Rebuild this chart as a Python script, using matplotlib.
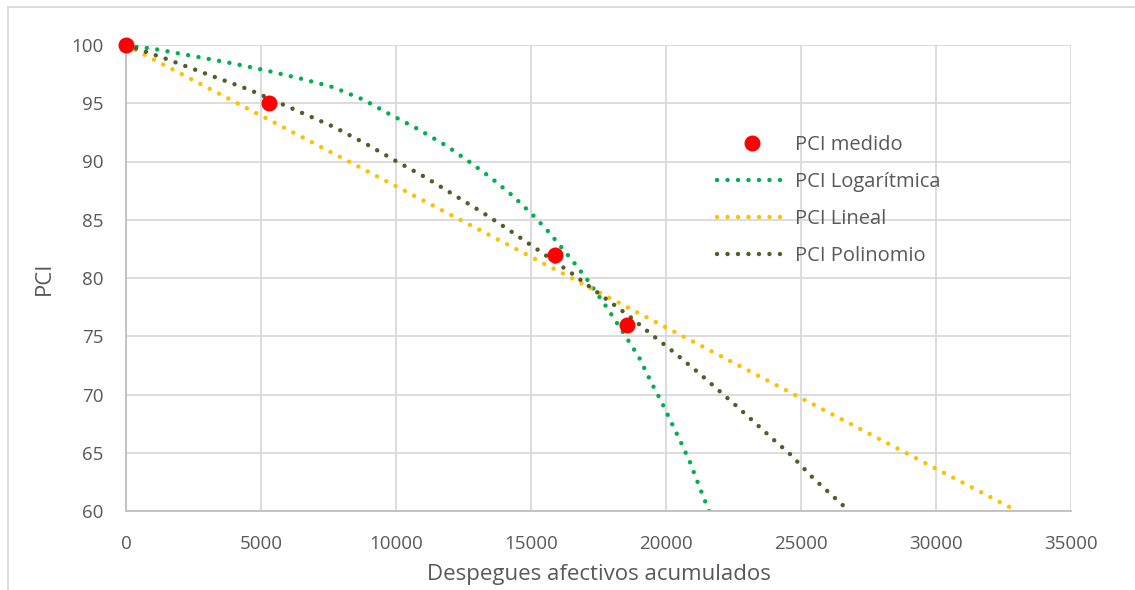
import numpy as np
import matplotlib.pyplot as plt
from matplotlib.lines import Line2D

plt.rcParams['font.family'] = ['Open Sans', 'DejaVu Sans']

# measured points
x_med = [0, 5300, 15900, 18550]
y_med = [100, 95, 82, 76]

# trend lines, points
x_log = [0, 1200, 2740, 4000, 5210, 6500, 7680, 8800, 9750, 10800, 11880, 12700,
         13520, 14300, 15040, 15600, 16110, 16600, 17120, 17800, 18480, 19000,
         19470, 19850, 20190, 20550, 20890, 21250, 21610]
y_log = [100, 99.6, 98.94, 98.4, 97.8, 97.1, 96.37, 95.3, 94.08, 92.8, 91.33, 90.0,
         88.6, 87.1, 85.47, 84.1, 82.69, 81.3, 79.74, 77.5, 75.08, 73.2,
         70.96, 69.3, 67.64, 65.9, 64.18, 62.0, 59.9]

x_lin = [0, 33000]
y_lin = [100, 60]

x_pol = [0, 1500, 3000, 4590, 6100, 7680, 8900, 10030, 11090, 12100, 13180, 14200,
         15170, 16510, 17800, 18600, 19410, 20200, 20980, 21260, 22500, 24000,
         24600, 25460, 26660, 26850]
y_pol = [100, 98.8, 97.5, 96.14, 94.6, 92.99, 91.5, 90.0, 88.64, 87.2, 85.66, 84.1,
         82.55, 80.4, 78.17, 76.8, 75.25, 73.8, 72.3, 71.76, 69.24, 66.09,
         64.87, 62.8, 60.26, 60.0]

text_col = '#595959'
c_log = '#00b050'
c_lin = '#ffc000'
c_pol = '#4f5f28'

fig = plt.figure(figsize=(11.35, 5.9), dpi=100)
ax = fig.add_axes([126 / 1135, 1 - 511 / 590, 945 / 1135, 466 / 590])

dot = (0, (0.01, 2.35))
kw = dict(linestyle=dot, linewidth=3.2, dash_capstyle='round')
ax.plot(x_log, y_log, color=c_log, **kw)
ax.plot(x_lin, y_lin, color=c_lin, **kw)
ax.plot(x_pol, y_pol, color=c_pol, **kw)
ax.plot(x_med, y_med, 'o', color='#ff0000', markersize=10.5, zorder=5, clip_on=False)

ax.set_xlim(0, 35000)
ax.set_ylim(60, 100)
ax.set_xticks(np.arange(0, 35001, 5000))
ax.set_yticks(np.arange(60, 101, 5))
ax.grid(True, color='#d9d9d9', linewidth=1.3)
ax.set_axisbelow(True)
for s in ['top', 'right']:
    ax.spines[s].set_visible(False)
for s in ['left', 'bottom']:
    ax.spines[s].set_color('#bfbfbf')
    ax.spines[s].set_linewidth(1.3)
ax.tick_params(length=0, labelsize=13.5, labelcolor=text_col)
ax.tick_params(axis='y', pad=16)
ax.tick_params(axis='x', pad=17)
ax.set_xlabel('Despegues afectivos acumulados', fontsize=16, color=text_col, labelpad=8)
ax.set_ylabel('PCI', fontsize=16, color=text_col, labelpad=12)

handles = [
    Line2D([], [], marker='o', color='#ff0000', linestyle='none', markersize=10.5),
    Line2D([], [], color=c_log, **kw),
    Line2D([], [], color=c_lin, **kw),
    Line2D([], [], color=c_pol, **kw),
]
labels = ['PCI medido', 'PCI Logarítmica', 'PCI Lineal', 'PCI Polinomio']
leg = ax.legend(handles, labels, frameon=False, fontsize=14.5, loc='upper left',
                bbox_to_anchor=(573 / 945, 1 - 72 / 466), handlelength=3.5,
                handletextpad=0.35, labelspacing=0.85)
for t in leg.get_texts():
    t.set_color(text_col)

# chart border
fig.add_artist(plt.Line2D([8 / 1135, 8 / 1135], [0, 1 - 7 / 590], color='#d9d9d9',
                          linewidth=1.3, transform=fig.transFigure))
fig.add_artist(plt.Line2D([8 / 1135, 1], [1 - 7 / 590, 1 - 7 / 590], color='#d9d9d9',
                          linewidth=1.3, transform=fig.transFigure))

fig.savefig('out.png', dpi=100)
